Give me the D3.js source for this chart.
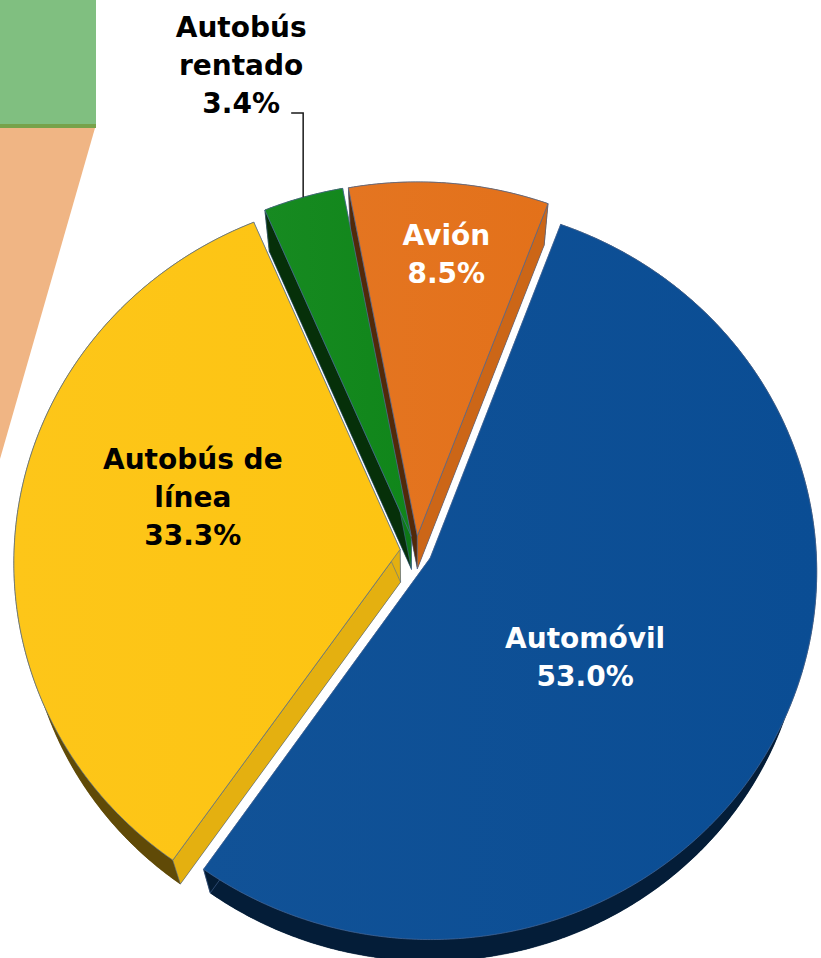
<!DOCTYPE html>
<html><head><meta charset="utf-8">
<script src="https://cdn.jsdelivr.net/npm/d3@7"></script>
<style>html,body{margin:0;padding:0;background:#fff}svg{display:block}</style>
</head><body>
<svg id="chart" width="821" height="958"></svg>
<script>
// ---- data ----
const categories = ["Automóvil", "Autobús de línea", "Autobús rentado", "Avión"];
const values = [53.0, 33.3, 3.4, 8.5];
const labelLines = [["Automóvil"], ["Autobús de", "línea"], ["Autobús", "rentado"], ["Avión"]];
const colors = ["#0a4d94", "#fdc412", "#10861a", "#e3711a"];
const labelColors = ["#ffffff", "#000000", "#000000", "#ffffff"];

// ---- layout ----
const cx = 416, cy = 551, R = 386, explode = 16;
const sinE = 0.952, cosE = Math.sqrt(1 - sinE * sinE), D = 3340, T = 110;
const startA = 20.5 * Math.PI / 180;
const fmt = d3.format(".1f");
// label placement inside slices: fraction along slice angle, fraction of radius; null -> outside
const labelPlace = [{t: 0.53, r: 0.52}, {t: 0.57, r: 0.60}, null, {t: 0.52, r: 0.837}];
const lineH = 38;

const svg = d3.select("#chart");

// secondary chart remnant (top-left)
const deco = svg.append("g");
deco.append("rect").attr("x", 0).attr("y", 0).attr("width", 96).attr("height", 124).attr("fill", "#80bf80");
deco.append("rect").attr("x", 0).attr("y", 124).attr("width", 96).attr("height", 4).attr("fill", "#77a24a");
deco.append("path").attr("d", d3.line()([[0, 128], [95, 128], [0, 459]]) + "Z").attr("fill", "#f0b584");

function proj(u, v, h) {
  const depth = v * cosE - h * sinE;
  const s = D / (D + depth);
  return [cx + u * s, cy - (v * sinE + h * cosE) * s];
}
function ring(a0, a1, r, h, off) {
  const n = Math.max(2, Math.ceil(Math.abs(a1 - a0) / (0.4 * Math.PI / 180)));
  return d3.range(n + 1).map(i => {
    const a = a0 + (a1 - a0) * i / n;
    return proj(off[0] + r * Math.sin(a), off[1] + r * Math.cos(a), h);
  });
}
const line = d3.line();
const shade = (c, k) => d3.interpolateRgb("#000000", c)(k);

const pie = d3.pie().sort(null).value(d => d).startAngle(startA).endAngle(startA + 2 * Math.PI);
const arcs = pie(values);

const slices = arcs.map((a, i) => {
  const mid = (a.startAngle + a.endAngle) / 2;
  const off = [explode * Math.sin(mid), explode * Math.cos(mid)];
  return {a, i, mid, off};
});

const defs = svg.append("defs");
colors.forEach((c, i) => {
  const g = defs.append("linearGradient").attr("id", "grad" + i)
    .attr("x1", 0).attr("y1", 0).attr("x2", 1).attr("y2", 0);
  g.append("stop").attr("offset", "0%").attr("stop-color", d3.interpolateRgb(c, "#ffffff")(0.03));
  g.append("stop").attr("offset", "100%").attr("stop-color", c);
});

const gBottom = svg.append("g"), gWalls = svg.append("g"), gTop = svg.append("g"), gLab = svg.append("g");
const edge = "#4d6c9c";

slices.forEach(s => {
  const {a, i, off} = s;
  const c = colors[i];
  const apexT = proj(off[0], off[1], 0), apexB = proj(off[0], off[1], -T);
  gBottom.append("path")
    .attr("d", line([apexB, ...ring(a.startAngle, a.endAngle, R, -T, off)]) + "Z")
    .attr("fill", shade(c, 0.4));
  const topRim = ring(a.startAngle, a.endAngle, R, 0, off);
  const botRim = ring(a.startAngle, a.endAngle, R, -T, off);
  gWalls.append("path")
    .attr("d", line([...topRim, ...botRim.reverse()]) + "Z")
    .attr("fill", shade(c, 0.38)).attr("stroke", shade(c, 0.38)).attr("stroke-width", 0.6);
  [[a.startAngle, -Math.cos(a.startAngle)], [a.endAngle, Math.cos(a.endAngle)]].forEach(([ang, nx]) => {
    const pT = proj(off[0] + R * Math.sin(ang), off[1] + R * Math.cos(ang), 0);
    const pB = proj(off[0] + R * Math.sin(ang), off[1] + R * Math.cos(ang), -T);
    gWalls.append("path")
      .attr("d", line([apexT, pT, pB, apexB]) + "Z")
      .attr("fill", nx > 0 ? shade(c, 0.9) : shade(c, 0.36))
      .attr("stroke", edge).attr("stroke-width", 0.7).attr("stroke-opacity", 0.8);
  });
});

slices.forEach(s => {
  const {a, i, off} = s;
  const apexT = proj(off[0], off[1], 0);
  gTop.append("path")
    .attr("d", line([apexT, ...ring(a.startAngle, a.endAngle, R, 0, off)]) + "Z")
    .attr("fill", "url(#grad" + i + ")")
    .attr("stroke", edge).attr("stroke-width", 0.8).attr("stroke-opacity", 0.85);
});

function drawLabel(lines, x, yFirstBaseline, color) {
  const t = gLab.append("text").attr("text-anchor", "middle")
    .attr("font-family", "'DejaVu Sans', Verdana, sans-serif").attr("font-weight", "bold")
    .attr("font-size", 28).attr("fill", color);
  lines.forEach((l, k) => t.append("tspan").attr("x", x).attr("y", yFirstBaseline + k * lineH).text(l));
}

slices.forEach(s => {
  const {a, i, off} = s;
  const lines = [...labelLines[i], fmt(values[i]) + "%"];
  const lp = labelPlace[i];
  if (lp) {
    const ang = a.startAngle + (a.endAngle - a.startAngle) * lp.t;
    const p = proj(lp.r * R * Math.sin(ang), lp.r * R * Math.cos(ang), 0);
    const y0 = p[1] - (lines.length - 1) * lineH / 2 + 10;
    drawLabel(lines, p[0], y0, labelColors[i]);
  } else {
    const ang = a.startAngle + (a.endAngle - a.startAngle) * 0.5;
    const p = proj(off[0] + R * Math.sin(ang), off[1] + R * Math.cos(ang), 0);
    const topY = 113;
    gLab.append("path")
      .attr("d", line([[p[0] - 12, topY], [p[0], topY], [p[0], p[1]]]))
      .attr("fill", "none").attr("stroke", "#1a1a1a").attr("stroke-width", 1.5);
    drawLabel(lines, p[0] - 62, topY - (lines.length - 1) * lineH, labelColors[i]);
  }
});
</script>
</body></html>
